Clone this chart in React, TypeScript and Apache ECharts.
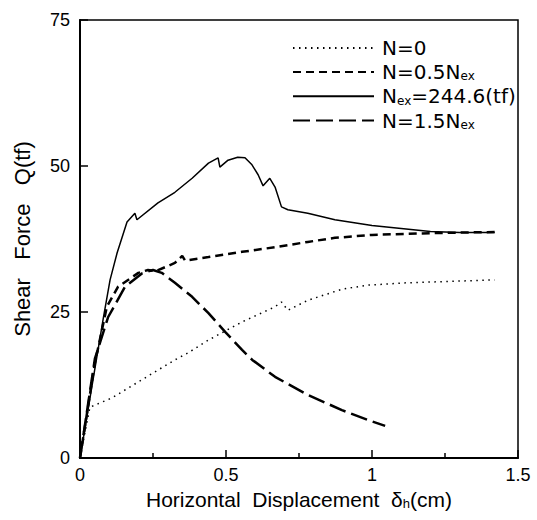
import React, { useEffect, useRef } from "react";
import * as echarts from "echarts";

// Horizontal displacement (cm) / shear force (tf)
const seriesN0: [number, number][] = [
  [0, 0], [0.034, 8.7], [0.11, 10.3], [0.212, 13.4], [0.325, 16.8], [0.37, 18.0],
  [0.44, 20.2], [0.555, 23.3], [0.668, 25.9], [0.69, 26.7], [0.712, 25.3],
  [0.78, 27.0], [0.897, 28.9], [0.986, 29.6], [1.12, 30.0], [1.24, 30.2], [1.42, 30.5],
];
const seriesN05: [number, number][] = [
  [0, 0], [0.05, 16], [0.092, 25.9], [0.13, 29.3], [0.2, 31.7], [0.233, 32.2],
  [0.26, 32.0], [0.325, 33.4], [0.35, 34.6], [0.36, 33.8], [0.44, 34.4],
  [0.555, 35.3], [0.668, 36.1], [0.78, 37.0], [0.873, 37.7], [1.0, 38.2],
  [1.2, 38.5], [1.42, 38.7],
];
const seriesNex: [number, number][] = [
  [0, 0], [0.05, 15], [0.08, 24], [0.103, 30.5], [0.127, 35.1], [0.161, 40.4],
  [0.188, 41.9], [0.195, 40.8], [0.267, 43.7], [0.325, 45.5], [0.384, 47.9],
  [0.44, 50.5], [0.473, 51.4], [0.479, 49.8], [0.507, 51.0], [0.54, 51.5],
  [0.565, 51.4], [0.589, 50.2], [0.61, 48.5], [0.627, 46.6], [0.65, 47.9],
  [0.668, 46.4], [0.69, 43.0], [0.712, 42.5], [0.78, 41.9], [0.873, 40.8],
  [1.0, 39.8], [1.1, 39.3], [1.2, 38.8], [1.3, 38.6], [1.42, 38.6],
];
const seriesN15: [number, number][] = [
  [0, 0], [0.051, 17], [0.096, 24.1], [0.154, 29.3], [0.212, 31.6], [0.25, 32.2],
  [0.28, 31.7], [0.325, 30.0], [0.384, 27.6], [0.44, 24.8], [0.497, 21.6],
  [0.555, 18.5], [0.59, 16.8], [0.668, 13.9], [0.78, 10.8], [0.897, 8.2],
  [0.986, 6.5], [1.045, 5.5],
];
const seriesNames = ["N=0", "N=0.5Nex", "Nex=244.6(tf)", "N=1.5Nex"];
const legendRich = [
  "{a|N=0}",
  "{a|N=0.5N}{s|ex}",
  "{a|N}{s|ex}{a|=244.6(tf)}",
  "{a|N=1.5N}{s|ex}",
];

const FONT = "'Liberation Sans', Arial, sans-serif";
const LFONT = "'DejaVu Sans', sans-serif";

export default function App() {
  const ref = useRef<HTMLDivElement>(null);
  useEffect(() => {
    if (!ref.current) return;
    const chart = echarts.init(ref.current, undefined, { renderer: "svg" });
    const mk = (name: string, data: [number, number][], type: any, width: number) => ({
      name,
      type: "line",
      data,
      symbol: "none",
      showSymbol: false,
      lineStyle: { color: "#000", width, type, cap: "butt" },
      itemStyle: { color: "#000" },
      z: 3,
    });
    chart.setOption({
      animation: false,
      backgroundColor: "#fff",
      textStyle: { fontFamily: FONT },
      grid: {
        left: 80, top: 20, width: 438, height: 438,
        show: true, borderColor: "#000", borderWidth: 1.5, backgroundColor: "transparent",
      },
      legend: {
        left: 287, top: 33, orient: "vertical",
        itemWidth: 81, itemHeight: 14, itemGap: 4,
        data: seriesNames,
        itemStyle: { opacity: 0 },
        formatter: (name: string) => legendRich[seriesNames.indexOf(name)],
        textStyle: {
          color: "#000", fontFamily: LFONT, fontSize: 20, padding: [0, 0, 0, 3],
          rich: {
            a: { fontSize: 20, lineHeight: 20.5, color: "#000", fontFamily: LFONT, verticalAlign: "middle" },
            s: { fontSize: 12, lineHeight: 12, color: "#000", fontFamily: LFONT, verticalAlign: "bottom" },
          },
        },
      },
      xAxis: {
        type: "value", min: 0, max: 1.5, interval: 0.5,
        name: "{a|Horizontal  Displacement  δ}{s|h}{a|(cm)}",
        nameLocation: "middle", nameGap: 29,
        nameTextStyle: {
          color: "#000",
          rich: {
            a: { fontSize: 21, lineHeight: 22, color: "#000", fontFamily: FONT, verticalAlign: "middle" },
            s: { fontSize: 13, lineHeight: 13, color: "#000", fontFamily: FONT, verticalAlign: "bottom" },
          },
        },
        axisLine: { lineStyle: { color: "#000", width: 2 } },
        axisTick: { inside: true, length: 8, lineStyle: { color: "#000", width: 1.5 } },
        minorTick: { show: true, splitNumber: 2, length: 5, lineStyle: { color: "#000", width: 1.5 } },
        splitLine: { show: false },
        axisLabel: { color: "#000", fontSize: 18, fontFamily: FONT, margin: 8 },
      },
      yAxis: {
        type: "value", min: 0, max: 75, interval: 25,
        name: "Shear   Force   Q(tf)",
        nameLocation: "middle", nameGap: 47,
        nameTextStyle: { color: "#000", fontSize: 22, fontFamily: FONT },
        axisLine: { lineStyle: { color: "#000", width: 2 } },
        axisTick: { inside: true, length: 8, lineStyle: { color: "#000", width: 1.5 } },
        splitLine: { show: false },
        axisLabel: { color: "#000", fontSize: 18, fontFamily: FONT, margin: 10 },
      },
      series: [
        mk(seriesNames[0], seriesN0, [1.5, 4.5], 1.5),
        mk(seriesNames[1], seriesN05, [8, 5], 2.5),
        mk(seriesNames[2], seriesNex, "solid", 1.5),
        mk(seriesNames[3], seriesN15, [17, 6], 2.5),
      ],
    });
    return () => chart.dispose();
  }, []);
  return (
    <div
      ref={ref}
      style={{ position: "fixed", left: 0, top: 0, width: 537, height: 520, background: "#fff" }}
    />
  );
}
